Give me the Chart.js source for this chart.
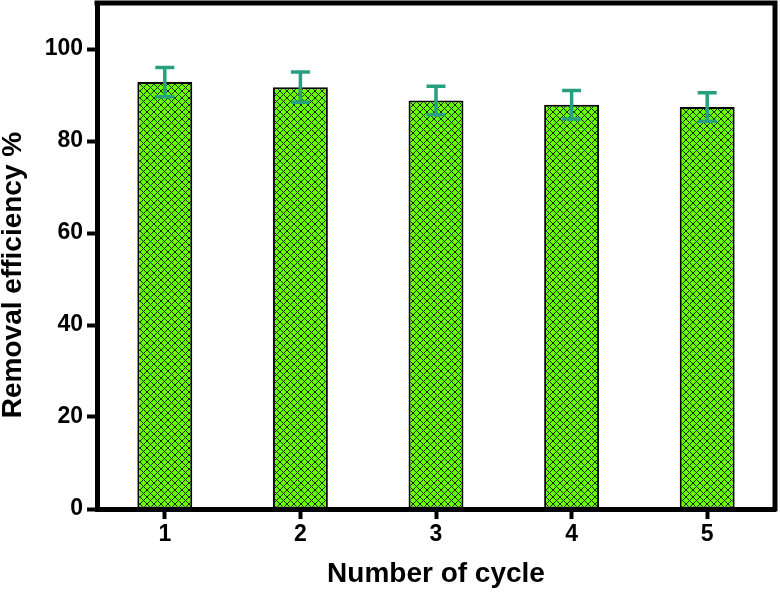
<!DOCTYPE html>
<html>
<head>
<meta charset="utf-8">
<script src="https://cdn.jsdelivr.net/npm/chart.js"></script>
<style>
  html, body { margin: 0; padding: 0; background: #fff; }
</style>
</head>
<body>
<canvas id="chartCanvas" width="780" height="593"></canvas>
<script>
// Data
const cycles = ['1', '2', '3', '4', '5'];
const removalEfficiency = [92.8, 91.7, 88.8, 87.9, 87.4];
const errorValues = [3.2, 3.3, 3.1, 3.1, 3.1];
const yTicks = [0, 20, 40, 60, 80, 100];
const xTitle = 'Number of cycle';
const yTitle = 'Removal efficiency %';

const fontFamily = '"Liberation Sans", Arial, sans-serif';

// Green cross-hatch fill like the original bars (1px diagonals, 7px cell)
function makeHatch() {
  const n = 7;
  const c = document.createElement('canvas');
  c.width = n;
  c.height = n;
  const g = c.getContext('2d');
  g.fillStyle = '#66ff00';
  g.fillRect(0, 0, n, n);
  g.fillStyle = '#142800';
  for (let i = 0; i < n; i++) {
    g.fillRect(i, i, 1, 1);
    g.fillRect(n - 1 - i, i, 1, 1);
  }
  return g.createPattern(c, 'repeat');
}

// Error bars drawn through the chart's own scales
const errorBarPlugin = {
  id: 'errorBars',
  afterDatasetsDraw(chart) {
    const ctx = chart.ctx;
    const xs = chart.scales.x;
    const ys = chart.scales.y;
    ctx.save();
    ctx.strokeStyle = '#27a07f';
    ctx.lineWidth = 3.5;
    removalEfficiency.forEach((v, i) => {
      const x = xs.getPixelForValue(i);
      const yHi = ys.getPixelForValue(v + errorValues[i]);
      const yLo = ys.getPixelForValue(v - errorValues[i]);
      ctx.beginPath();
      ctx.moveTo(x, yHi); ctx.lineTo(x, yLo);
      ctx.moveTo(x - 9.5, yHi); ctx.lineTo(x + 9.5, yHi);
      ctx.moveTo(x - 9.5, yLo); ctx.lineTo(x + 9.5, yLo);
      ctx.stroke();
    });
    ctx.restore();
  }
};

// Closed frame (top and right) plus the rotated y title
const framePlugin = {
  id: 'frame',
  afterDraw(chart) {
    const ctx = chart.ctx;
    const a = chart.chartArea;
    ctx.save();
    ctx.strokeStyle = '#000';
    ctx.lineWidth = 5;
    ctx.lineCap = 'square';
    ctx.beginPath();
    ctx.moveTo(a.left, a.top);
    ctx.lineTo(a.right, a.top);
    ctx.lineTo(a.right, a.bottom);
    ctx.stroke();

    ctx.fillStyle = '#000';
    ctx.font = 'bold 28px ' + fontFamily;
    ctx.textAlign = 'center';
    ctx.textBaseline = 'alphabetic';
    ctx.translate(21, 275);
    ctx.rotate(-Math.PI / 2);
    ctx.fillText(yTitle, 0, 0);
    ctx.restore();
  }
};

const ctx = document.getElementById('chartCanvas').getContext('2d');

new Chart(ctx, {
  type: 'bar',
  data: {
    labels: cycles,
    datasets: [{
      data: removalEfficiency,
      backgroundColor: makeHatch(),
      borderColor: '#000',
      borderWidth: 2,
      borderSkipped: false,
      barPercentage: 0.405,
      categoryPercentage: 1
    }]
  },
  options: {
    responsive: false,
    animation: false,
    devicePixelRatio: 1,
    layout: { padding: { top: 3, right: 5, left: 0, bottom: 0 } },
    plugins: {
      legend: { display: false },
      tooltip: { enabled: false }
    },
    scales: {
      x: {
        offset: true,
        grid: { drawOnChartArea: false, offset: false, tickLength: 10, tickWidth: 4, tickColor: '#000' },
        border: { display: true, width: 5, color: '#000' },
        ticks: { color: '#000', padding: 2, font: { family: fontFamily, size: 23, weight: 'bold' } },
        title: {
          display: true,
          text: xTitle,
          color: '#000',
          padding: { top: 0, bottom: 2 },
          font: { family: fontFamily, size: 28, weight: 'bold' }
        },
        afterFit(s) { s.height = 84; s.paddingLeft = 0; s.paddingRight = 0; }
      },
      y: {
        min: 0,
        max: 110,
        grid: { drawOnChartArea: false, tickLength: 10, tickWidth: 4, tickColor: '#000' },
        border: { display: true, width: 5, color: '#000' },
        ticks: { color: '#000', padding: 4, font: { family: fontFamily, size: 23, weight: 'bold' } },
        afterBuildTicks(s) { s.ticks = yTicks.map(v => ({ value: v })); },
        afterFit(s) { s.width = 97; s.paddingTop = 0; s.paddingBottom = 0; }
      }
    }
  },
  plugins: [errorBarPlugin, framePlugin]
});
</script>
</body>
</html>
